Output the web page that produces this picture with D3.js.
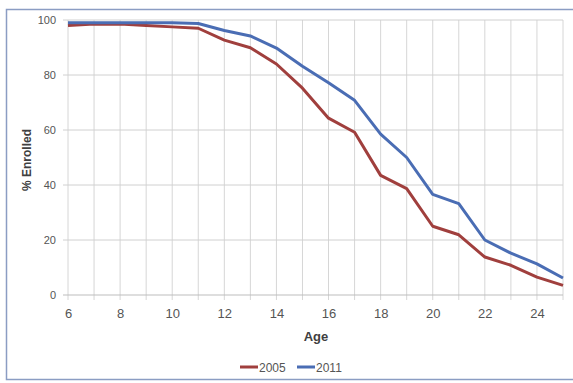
<!DOCTYPE html>
<html>
<head>
<meta charset="utf-8">
<script src="https://cdn.jsdelivr.net/npm/d3@7"></script>
<style>
  html, body { margin: 0; padding: 0; background: #fff; }
  svg { display: block; font-family: "Liberation Sans", Arial, sans-serif; }
</style>
</head>
<body>
<svg id="chart" width="573" height="383"></svg>
<script>
// Enrolment rate by single year of age, two survey years
const ages = [6, 7, 8, 9, 10, 11, 12, 13, 14, 15, 16, 17, 18, 19, 20, 21, 22, 23, 24, 25];
const enrolled2005 = [98, 98.5, 98.5, 98, 97.5, 97, 92.7, 89.9, 84, 75.2, 64.3, 59.2, 43.5, 38.7, 25, 21.9, 13.8, 10.8, 6.5, 3.5];
const enrolled2011 = [99, 99, 99, 99, 99, 98.7, 96.2, 94.2, 89.8, 83.2, 77.2, 70.8, 58.5, 50, 36.6, 33.2, 20, 15.2, 11.3, 6.2];
const xTickLabels = [6, 8, 10, 12, 14, 16, 18, 20, 22, 24];
const yTickLabels = [0, 20, 40, 60, 80, 100];
const seriesNames = ["2005", "2011"];

const svg = d3.select("#chart");
const plot = { left: 68, right: 563, top: 20, bottom: 295 };

// outer chart frame
svg.append("rect")
  .attr("x", 6.5).attr("y", 9.5).attr("width", 575).attr("height", 370)
  .attr("fill", "#fff").attr("stroke", "#8b9dc3").attr("stroke-width", 1.5);

const x = d3.scaleLinear().domain([6, 25]).range([plot.left, plot.right]);
const y = d3.scaleLinear().domain([0, 100]).range([plot.bottom, plot.top]);

// gridlines
const grid = svg.append("g");
grid.selectAll("line.v").data(ages).join("line")
  .attr("x1", d => x(d)).attr("x2", d => x(d))
  .attr("y1", plot.top).attr("y2", plot.bottom + 5)
  .attr("stroke", "#d6d6d6").attr("stroke-width", 1);
grid.selectAll("line.h").data(yTickLabels).join("line")
  .attr("x1", plot.left - 5).attr("x2", plot.right)
  .attr("y1", d => y(d)).attr("y2", d => y(d))
  .attr("stroke", d => d === 0 ? "#bdbdbd" : "#d0d0d0").attr("stroke-width", 1);

// axis tick labels
const xAxis = svg.append("g").attr("transform", `translate(0,${plot.bottom})`)
  .call(d3.axisBottom(x).tickValues(xTickLabels).tickSize(0).tickPadding(14));
xAxis.select(".domain").remove();
xAxis.selectAll("text").attr("font-size", 13).attr("fill", "#555");

const yAxis = svg.append("g").attr("transform", `translate(${plot.left},0)`)
  .call(d3.axisLeft(y).tickValues(yTickLabels).tickSize(0).tickPadding(12));
yAxis.select(".domain").remove();
yAxis.selectAll("text").attr("font-size", 11).attr("fill", "#555");

svg.append("text").attr("x", 316).attr("y", 341)
  .attr("text-anchor", "middle").attr("font-size", 13).attr("font-weight", "bold")
  .attr("fill", "#404040").text("Age");
svg.append("text")
  .attr("transform", "translate(31,160) rotate(-90)")
  .attr("text-anchor", "middle").attr("font-size", 12).attr("font-weight", "bold")
  .attr("fill", "#404040").text("% Enrolled");

// series lines
const colors = ["#a03f3d", "#4a6db4"];
const line = d3.line().x((d, i) => x(ages[i])).y(d => y(d));
[enrolled2005, enrolled2011].forEach((vals, k) => {
  svg.append("path").datum(vals)
    .attr("d", line).attr("fill", "none")
    .attr("stroke", colors[k]).attr("stroke-width", 3)
    .attr("stroke-linejoin", "round");
});

// legend
const legendX = [240, 297];
seriesNames.forEach((name, k) => {
  const g = svg.append("g").attr("transform", `translate(${legendX[k]},367)`);
  g.append("line").attr("x1", 0).attr("x2", 18).attr("y1", 0).attr("y2", 0)
    .attr("stroke", colors[k]).attr("stroke-width", 3);
  g.append("text").attr("x", 19).attr("y", 4.5).attr("font-size", 12)
    .attr("fill", "#555").text(name);
});
</script>
</body>
</html>
